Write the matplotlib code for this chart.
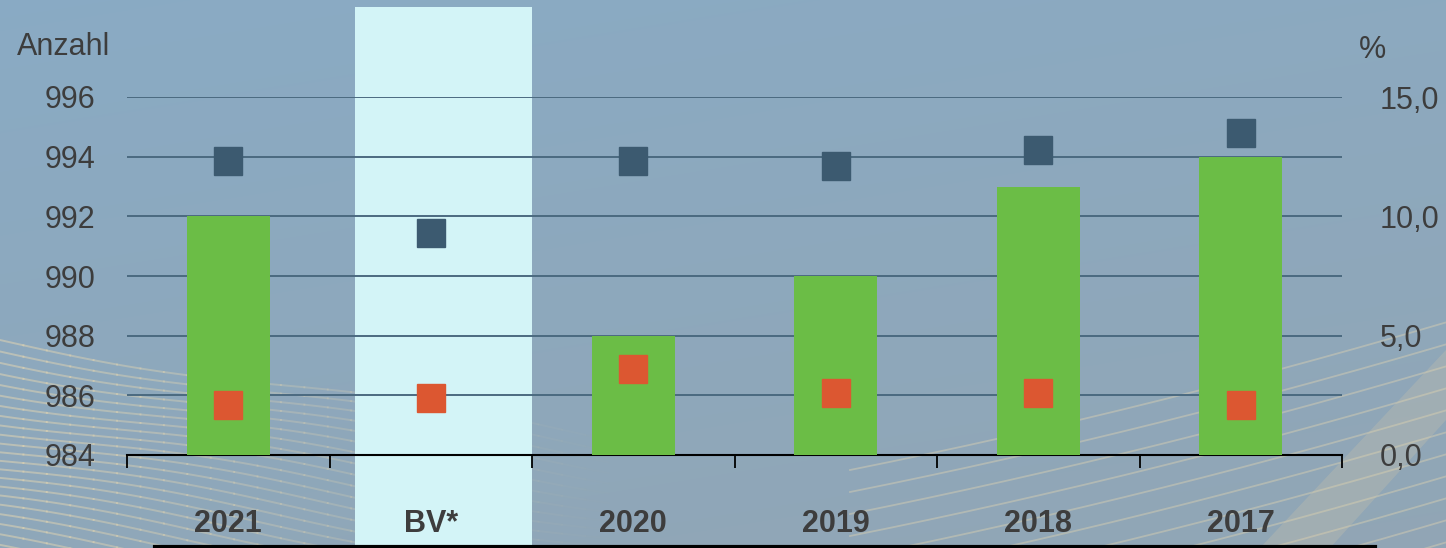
import numpy as np
import matplotlib
matplotlib.use('Agg')
import matplotlib.pyplot as plt
from matplotlib.patches import Rectangle, Polygon
from matplotlib.lines import Line2D

plt.rcParams['font.family'] = ['Liberation Sans', 'DejaVu Sans']

# data
jahre = ['2021', 'BV*', '2020', '2019', '2018', '2017']
anzahl = [992, None, 988, 990, 993, 994]          # Balken, linke Achse
quote_blau = [12.3, 9.3, 12.3, 12.1, 12.8, 13.5]   # %, rechte Achse
quote_rot = [2.1, 2.4, 3.6, 2.6, 2.6, 2.1]         # %, rechte Achse

W, H = 1446, 548
fig = plt.figure(figsize=(W / 100, H / 100), dpi=100)

# Hintergrund mit Verlauf und Wellenlinien
bg = fig.add_axes([0, 0, 1, 1], zorder=0)
bg.set_xlim(0, W)
bg.set_ylim(H, 0)
bg.axis('off')
yy, xx = np.mgrid[0:H, 0:W]
top = np.array([0.54, 0.67, 0.77])
bot = np.array([0.57, 0.65, 0.71])
t = (yy / H)[..., None] * 0.7 + (xx / W)[..., None] * 0.3
img = top * (1 - t) + bot * t
bg.imshow(img, extent=[0, W, H, 0], aspect='auto', zorder=0)
xs = np.linspace(0, 700, 300)
for k in range(22):
    y0 = 340 + k * 10
    ys = y0 + 0.16 * xs + 6 * np.sin(xs / 90 + k * 0.25)
    a = 0.45 * np.clip(1 - xs / 600, 0, 1)
    for j in range(0, len(xs) - 10, 10):
        bg.plot(xs[j:j + 11], ys[j:j + 11], color='#f1ddb0', lw=1.4, alpha=a[j], zorder=1)
xs = np.linspace(850, W, 200)
for k in range(14):
    y0 = 470 + k * 22
    ys = y0 - 0.2 * (xs - 850) - 0.00008 * (xs - 850) ** 2
    bg.plot(xs, ys, color='#f1ddb0', lw=1.3, alpha=0.35, zorder=1)
bg.add_patch(Polygon([[1260, 548], [1330, 548], [1446, 420], [1446, 350]],
                     closed=True, facecolor='#e8d3a6', alpha=0.2, edgecolor='none', zorder=1))

# Hervorhebung BV*
bg.add_patch(Rectangle((355, 7), 177, H - 7, facecolor='#d3f4f7', edgecolor='none', zorder=2))
bg.add_line(Line2D([155, 1375], [546.5, 546.5], color='black', lw=3, zorder=3))

# Hauptachse
left, right = 127, 1342
ax = fig.add_axes([left / W, (H - 455) / H, (right - left) / W, (455 - 97) / H], zorder=2)
ax.patch.set_alpha(0)
x = np.arange(len(jahre))
for i, v in enumerate(anzahl):
    if v is not None:
        ax.bar(x[i], v - 984, bottom=984, width=0.41, color='#6bbd46', zorder=3)
ax.set_xlim(-0.5, 5.5)
ax.set_ylim(984, 996)
ax.set_yticks(np.arange(984, 997, 2))
ax.grid(axis='y', color='#4b6a80', lw=1.4, zorder=1)
ax.set_axisbelow(True)
for s in ['top', 'left', 'right']:
    ax.spines[s].set_visible(False)
ax.spines['bottom'].set_color('black')
ax.spines['bottom'].set_linewidth(1.5)
ax.set_xticks(x)
ax.set_xticklabels(jahre, fontsize=22, fontweight='bold', color='#3d3d3d')
ax.tick_params(axis='x', which='major', length=0, pad=39)
ax.set_xticks(np.arange(-0.5, 6, 1), minor=True)
ax.tick_params(axis='x', which='minor', length=9, width=1.3, color='black', direction='out')
ax.tick_params(axis='y', length=0, pad=23, labelsize=22, labelcolor='#3d3d3d')

ax2 = ax.twinx()
ax2.set_ylim(0, 15)
ax2.set_yticks([0, 5, 10, 15])
ax2.set_yticklabels([f'{v:.1f}'.replace('.', ',') for v in [0, 5, 10, 15]])
ax2.tick_params(axis='y', length=0, pad=27, labelsize=22, labelcolor='#3d3d3d')
for s in ax2.spines.values():
    s.set_visible(False)
ax2.plot(x, quote_blau, 's', ms=19.5, color='#3c5a70', zorder=4, ls='none')
ax2.plot(x, quote_rot, 's', ms=19.5, color='#dc5731', zorder=4, ls='none')

fig.text(17 / W, 1 - 47 / H, 'Anzahl', fontsize=22, color='#3d3d3d', va='center', ha='left')
fig.text(1372 / W, 1 - 50 / H, '%', fontsize=22, color='#3d3d3d', va='center', ha='center')

fig.savefig('out.png', dpi=100)
